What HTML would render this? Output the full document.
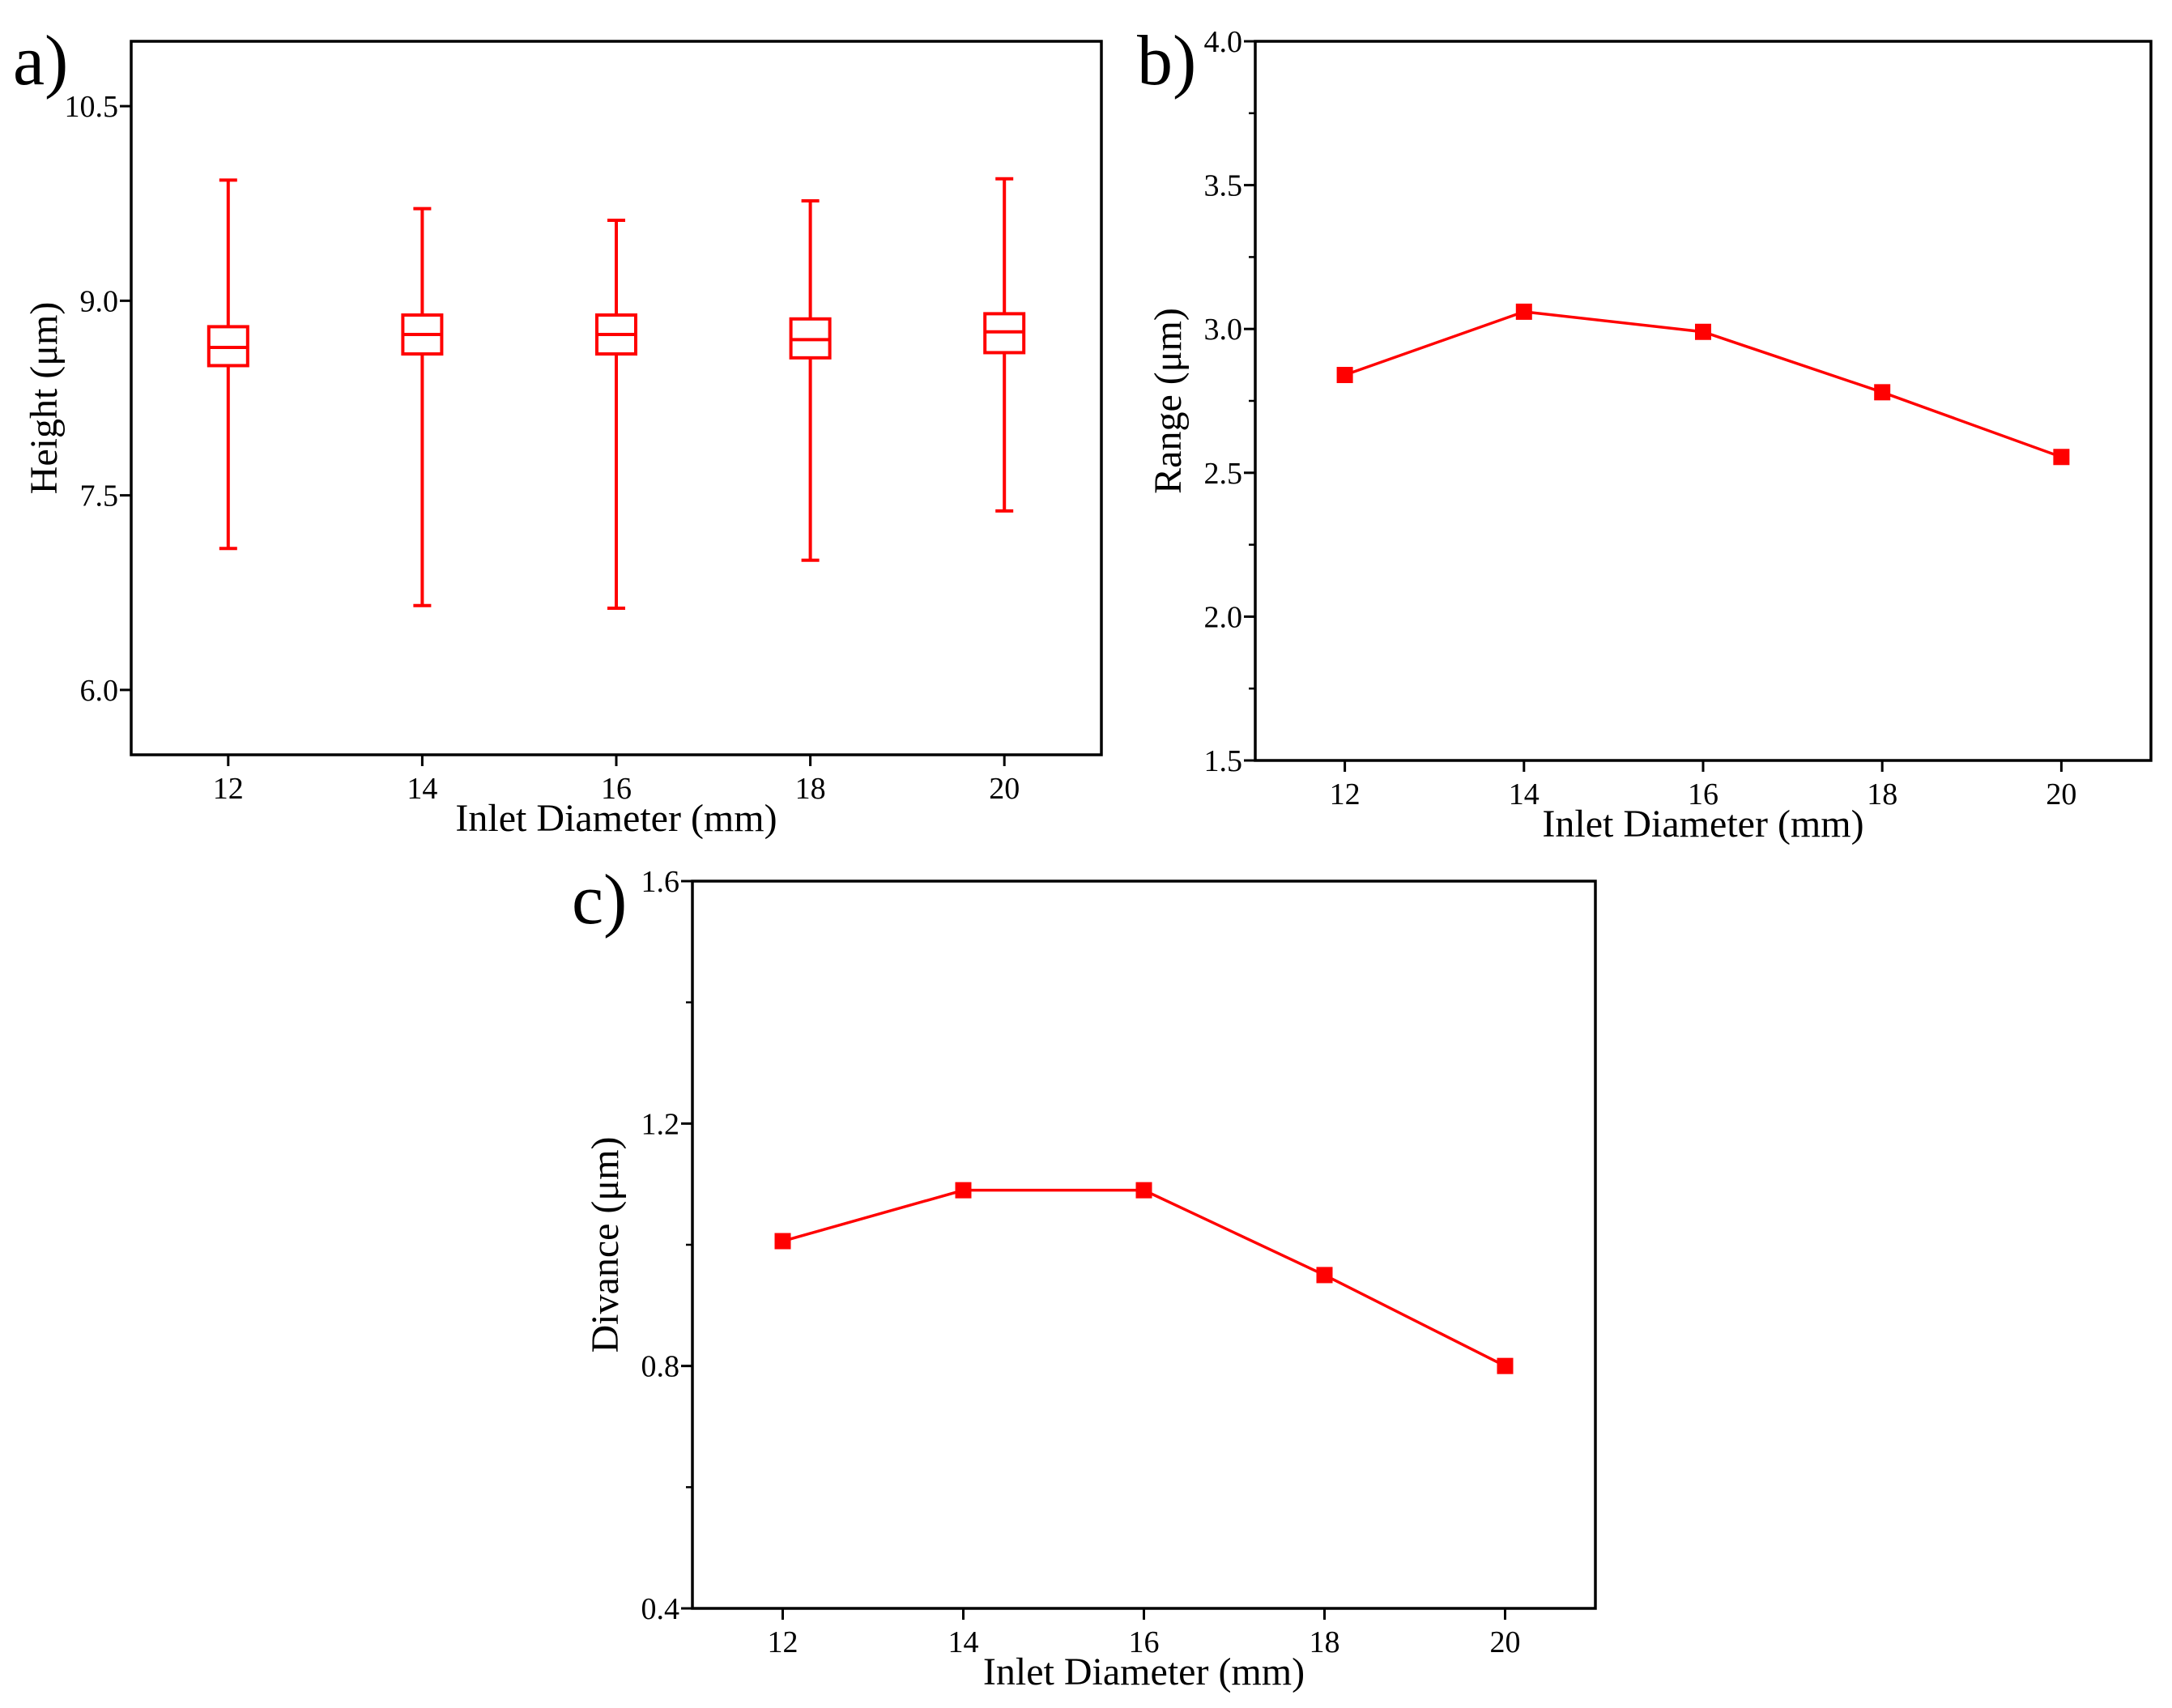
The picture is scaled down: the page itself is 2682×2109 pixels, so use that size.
<!DOCTYPE html>
<html><head><meta charset="utf-8"><style>
html,body{margin:0;padding:0;background:#fff;}
svg{display:block;font-family:"Liberation Serif",serif;}
</style></head><body>
<svg id="fig" width="2682" height="2109" viewBox="0 0 2682 2109" xmlns="http://www.w3.org/2000/svg"></svg>
<script>
const categories = [12, 14, 16, 18, 20];
// panel a box stats
const whiskerHigh = [9.93, 9.71, 9.62, 9.77, 9.94];
const q3 = [8.80, 8.89, 8.89, 8.86, 8.90];
const median = [8.64, 8.74, 8.74, 8.70, 8.76];
const q1 = [8.50, 8.59, 8.59, 8.56, 8.60];
const whiskerLow = [7.09, 6.65, 6.63, 7.00, 7.38];
const aTicks = [6.0, 7.5, 9.0, 10.5];
// panel b
const rangeValues = [2.84, 3.06, 2.99, 2.78, 2.555];
const bTicks = [1.5, 2.0, 2.5, 3.0, 3.5, 4.0];
// panel c
const divanceValues = [1.006, 1.09, 1.09, 0.95, 0.80];
const cTicks = [0.4, 0.8, 1.2, 1.6];

const NS = "http://www.w3.org/2000/svg";
const svg = document.getElementById('fig');
function el(tag, attrs, parent, text){
  const e = document.createElementNS(NS, tag);
  for (const k in attrs) e.setAttribute(k, attrs[k]);
  if (text !== undefined) e.textContent = text;
  (parent || svg).appendChild(e);
  return e;
}
function panel(p){
  const g = el('g', {});
  
  
  const sx = v => p.L + (v - 11) / 10 * (p.R - p.L);
  const sy = v => p.B - (v - p.ymin) / (p.ymax - p.ymin) * (p.B - p.T);
  const frame = el('rect', {x:p.L, y:p.T, width:p.R-p.L, height:p.B-p.T, fill:'none', stroke:'#000', 'stroke-width':3.5}, g);
  
  
  categories.forEach(c => {
    el('line', {x1:sx(c), x2:sx(c), y1:p.B, y2:p.B+14, stroke:'#000', 'stroke-width':3}, g);
    const t = el('text', {x:sx(c), y:p.B+54, 'font-size':38, 'text-anchor':'middle'}, g, String(c));
    
    
  });
  p.ticks.forEach(v => {
    el('line', {x1:p.L-14, x2:p.L, y1:sy(v), y2:sy(v), stroke:'#000', 'stroke-width':3}, g);
    const t = el('text', {x:p.L-16, y:sy(v)+13, 'font-size':38, 'text-anchor':'end'}, g, v.toFixed(1));
    
    
  });
  if (p.minor) {
    for (let v = p.ymin; v <= p.ymax + 1e-9; v += p.minor) {
      el('line', {x1:p.L-8, x2:p.L, y1:sy(v), y2:sy(v), stroke:'#000', 'stroke-width':2.5}, g);
    }
  }
  const xt = el('text', {x:(p.L+p.R)/2, y:p.B+94 + (p.xtOff||0), 'font-size':48, 'text-anchor':'middle'}, g, 'Inlet Diameter (mm)');
  
  
  const yx = p.L - 92, yy = (p.T+p.B)/2;
  const yt = el('text', {x:yx, y:yy, 'font-size':48, 'text-anchor':'middle', transform:`rotate(-90 ${yx} ${yy})`}, g, p.ytitle);
  
  
  const lt = el('text', {x:p.lx, y:p.ly, 'font-size':88}, g, p.letter);
  
  
  return {g, sx, sy};
}

const A = panel({name:'panel-a-height-boxplot', L:162, R:1360, T:51, B:932, ymin:5.5, ymax:11, ticks:aTicks, ytitle:'Height (μm)', letter:'a)', lx:16, ly:104});
categories.forEach((c, i) => {
  const x = A.sx(c), hw = 24, cw = 11;
  const g = el('g', {stroke:'#ff0000', 'stroke-width':4, fill:'none'}, A.g);
  
  
  el('line', {x1:x, x2:x, y1:A.sy(whiskerHigh[i]), y2:A.sy(q3[i])}, g);
  el('line', {x1:x, x2:x, y1:A.sy(q1[i]), y2:A.sy(whiskerLow[i])}, g);
  el('line', {x1:x-cw, x2:x+cw, y1:A.sy(whiskerHigh[i]), y2:A.sy(whiskerHigh[i])}, g);
  el('line', {x1:x-cw, x2:x+cw, y1:A.sy(whiskerLow[i]), y2:A.sy(whiskerLow[i])}, g);
  el('rect', {x:x-hw, y:A.sy(q3[i]), width:2*hw, height:A.sy(q1[i])-A.sy(q3[i])}, g);
  el('line', {x1:x-hw, x2:x+hw, y1:A.sy(median[i]), y2:A.sy(median[i])}, g);
});

function lineSeries(P, vals, name){
  const pts = categories.map((c,i) => P.sx(c) + ',' + P.sy(vals[i])).join(' ');
  const pl = el('polyline', {points:pts, fill:'none', stroke:'#ff0000', 'stroke-width':3.5}, P.g);
  
  
  categories.forEach((c,i) => {
    const r = el('rect', {x:P.sx(c)-10, y:P.sy(vals[i])-10, width:20, height:20, fill:'#ff0000'}, P.g);
    
    
  });
}
const Bp = panel({name:'panel-b-range-chart', L:1550, R:2656, T:51, B:939, ymin:1.5, ymax:4.0, ticks:bTicks, minor:0.25, ytitle:'Range (μm)', letter:'b)', lx:1404, ly:104});
lineSeries(Bp, rangeValues, 'range');
const Cp = panel({name:'panel-c-divance-chart', L:855, R:1970, T:1088, B:1986, ymin:0.4, ymax:1.6, ticks:cTicks, minor:0.2, ytitle:'Divance (μm)', letter:'c)', lx:706, ly:1140});
lineSeries(Cp, divanceValues, 'divance');
</script>
</body></html>
